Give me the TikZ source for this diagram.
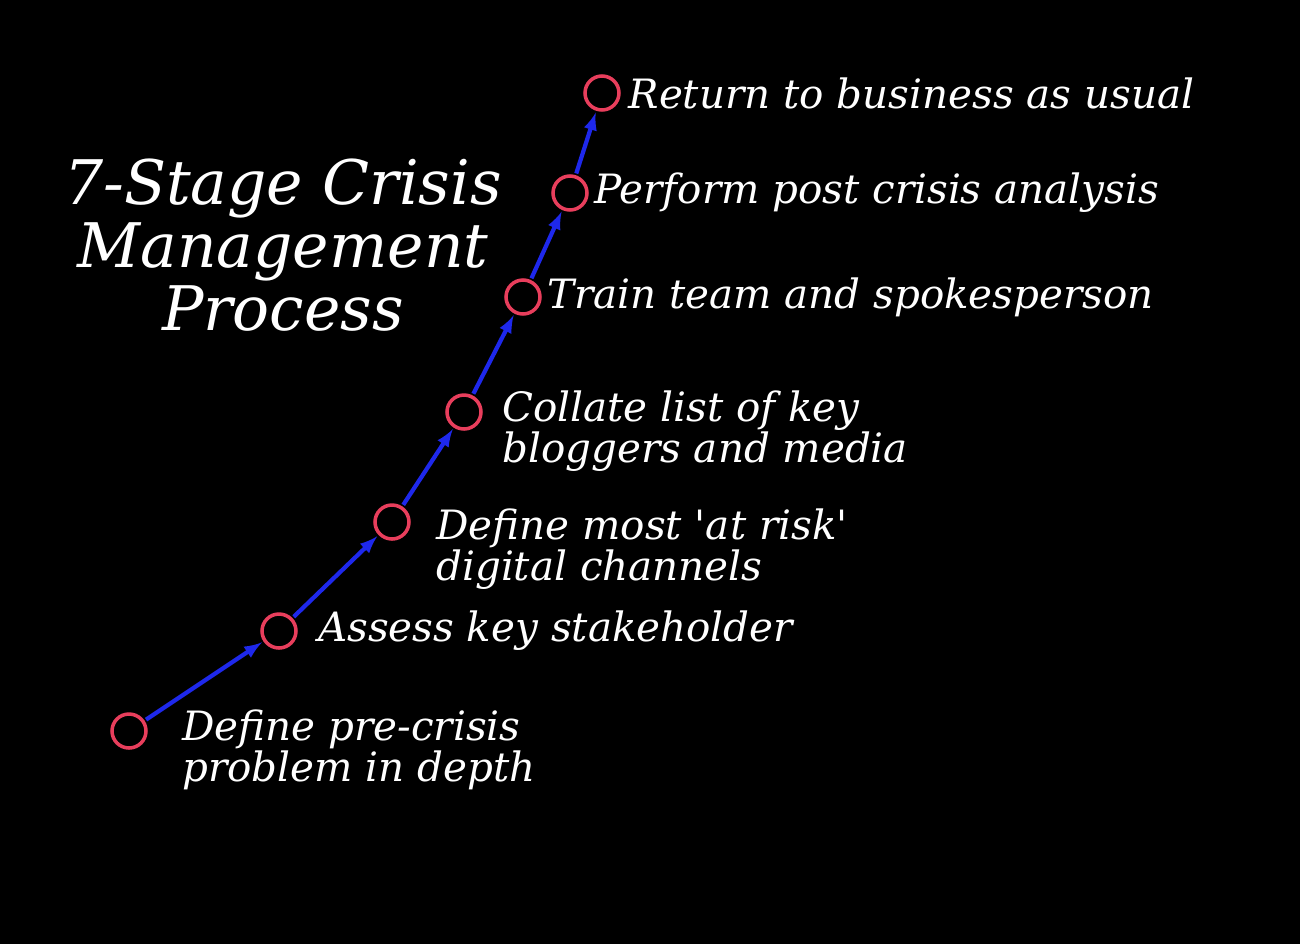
\documentclass[tikz,border=0pt]{standalone}
\usepackage{fontspec}
\setmainfont{DejaVu Serif}
\usetikzlibrary{positioning}
\definecolor{ringred}{RGB}{232,62,92}
\definecolor{arrowblue}{RGB}{30,40,235}
\begin{document}
\begin{tikzpicture}[x=0.02cm,y=-0.02cm,
    stage/.style ={circle, draw=ringred, line width=2pt, inner sep = 0pt, minimum size=0.68cm},
    step label/.style ={text=white, font=\itshape\fontsize{23}{23}\selectfont, align=left, anchor=west, inner sep=0pt},
    link/.style ={-latex, draw=arrowblue, line width=2.4pt, shorten <=1pt, shorten >=1pt}]
   \fill[black] (0,0) rectangle (1300,944);
   \useasboundingbox (0,0) rectangle (1300,944);
   \node[text=white, font=\itshape\fontsize{35}{36}\selectfont, align=center] (title) at (283,245)
      {7-Stage Crisis\\Management\\Process};
   \node[stage] (s1) at (129,731) {};
   \node[stage] (s2) at (279,631) {};
   \node[stage] (s3) at (392,522) {};
   \node[stage] (s4) at (464,412) {};
   \node[stage] (s5) at (523,297) {};
   \node[stage] (s6) at (570,193) {};
   \node[stage] (s7) at (602,93)  {};

   \node[step label] (l1) at (182,750) {Define pre-crisis\\problem in depth};
   \node[step label, right=0.4cm of s2] (l2) {Assess key stakeholder};
   \node[step label] (l3) at (436,549) {Define most \textquotesingle at risk\textquotesingle\\digital channels};
   \node[step label] (l4) at (502,431) {Collate list of key\\bloggers and media};
   \node[step label, right=0.1cm of s5] (l5) {Train team and spokesperson};
   \node[step label, right=0.1cm of s6] (l6) {Perform post crisis analysis};
   \node[step label, right=0.15cm of s7] (l7) {Return to business as usual};

   \foreach \a/\b in {s1/s2,s2/s3,s3/s4,s4/s5,s5/s6,s6/s7}
      \draw[link] (\a) to (\b);
 \end{tikzpicture}
\end{document}
